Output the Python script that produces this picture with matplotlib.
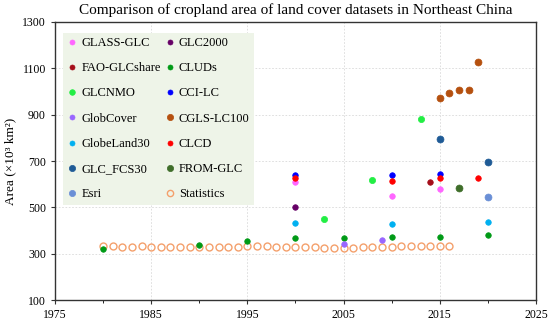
import matplotlib
matplotlib.use("Agg")
import matplotlib.pyplot as plt

plt.rcParams['font.family'] = ['Liberation Serif', 'DejaVu Serif']

# values (x: year, y: area in 10^3 km2)
glass_glc = ([2000, 2010, 2015], [609, 549, 579])
glc2000 = ([2000], [503])
fao_glcshare = ([2014], [609])
cluds = ([1980, 1990, 1995, 2000, 2005, 2010, 2015, 2020], [321, 337, 357, 369, 370, 372, 373, 379])
glcnmo = ([2003, 2008, 2013], [448, 618, 881])
cci_lc = ([2000, 2010, 2015], [638, 641, 644])
globcover = ([2005, 2009], [341, 359])
cgls_lc100 = ([2015, 2016, 2017, 2018, 2019], [973, 993, 1005, 1006, 1128])
globeland30 = ([2000, 2010, 2020], [434, 429, 435])
clcd = ([2000, 2010, 2015, 2019], [626, 612, 628, 627])
glc_fcs30 = ([2015, 2020], [793, 698])
from_glc = ([2017], [582])
esri = ([2020], [543])

stat_years = list(range(1980, 2017))
stat_area = [332, 332, 331, 331, 332, 331, 331, 330, 327, 327,
             329, 331, 331, 331, 331, 332, 333, 333, 331, 331,
             331, 328, 327, 325, 325, 324, 325, 327, 328, 330,
             331, 333, 333, 333, 333, 333, 333]

series = [
    ("GLASS-GLC", glass_glc, "#ff66ff", 4),
    ("GLC2000", glc2000, "#660066", 4),
    ("FAO-GLCshare", fao_glcshare, "#a50e1a", 4),
    ("CLUDs", cluds, "#009a16", 4),
    ("GLCNMO", glcnmo, "#22ee44", 4.5),
    ("CCI-LC", cci_lc, "#0000ff", 4),
    ("GlobCover", globcover, "#9966ff", 4),
    ("CGLS-LC100", cgls_lc100, "#b5500f", 5),
    ("GlobeLand30", globeland30, "#00b0f0", 4),
    ("CLCD", clcd, "#ff0000", 4),
    ("GLC_FCS30", glc_fcs30, "#1f5b96", 5),
    ("FROM-GLC", from_glc, "#3f6e2a", 5),
    ("Esri", esri, "#6a8fd6", 5),
]

fig = plt.figure(figsize=(5.5, 3.22), dpi=100)
ax = fig.add_axes([0.1, 0.068, 0.8745, 0.8637])

handles = []
for name, (xs, ys), color, ms in series:
    h, = ax.plot(xs, ys, 'o', color=color, markersize=ms, markeredgewidth=0.5,
                 label=name, zorder=3)
    handles.append(h)

h, = ax.plot(stat_years, stat_area, 'o', markerfacecolor='none', markeredgecolor='#f4a06c',
             markersize=5, markeredgewidth=1.0, label="Statistics", zorder=2)
handles.append(h)

ax.set_xlim(1975, 2025)
ax.set_ylim(100, 1300)
ax.set_xticks([1975, 1985, 1995, 2005, 2015, 2025])
ax.set_xticks([1980, 1990, 2000, 2010, 2020], minor=True)
ax.set_yticks(range(100, 1301, 200))
ax.tick_params(axis='both', labelsize=8.5, direction='out', length=3, color='#333333')
ax.tick_params(axis='x', which='minor', length=2)
ax.grid(True, which='major', linestyle=(0, (2, 2)), color='#d9d9d9', linewidth=0.6)
for sp in ax.spines.values():
    sp.set_color('#333333')
    sp.set_linewidth(1.0)

ax.set_ylabel("Area (×10³ km²)", fontsize=9.5, labelpad=4)
ax.set_title("Comparison of cropland area of land cover datasets in Northeast China",
             fontsize=11, pad=6)

# legend is filled row by row in the reference: reorder for column-wise filling
order = list(range(0, 14, 2)) + list(range(1, 14, 2))
leg = ax.legend([handles[i] for i in order], [handles[i].get_label() for i in order],
                ncol=2, loc='upper left', bbox_to_anchor=(0.016, 0.962), fontsize=9,
                frameon=True, fancybox=False, labelspacing=1.06, handletextpad=0.35,
                columnspacing=0.3, handlelength=0.8, borderpad=0.35, borderaxespad=0,
                markerscale=0.9)
leg.get_frame().set_facecolor('#eef4e8')
leg.get_frame().set_edgecolor('none')
leg.get_frame().set_alpha(1)

fig.savefig("out.png", dpi=100)
